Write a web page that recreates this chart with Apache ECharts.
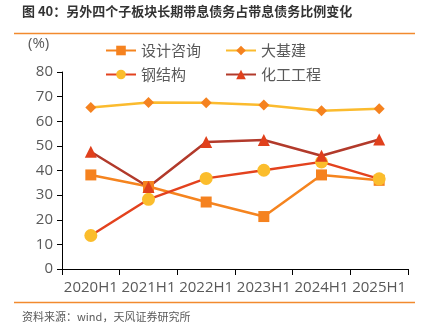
<!DOCTYPE html>
<html>
<head>
<meta charset="utf-8">
<script src="https://cdn.jsdelivr.net/npm/echarts@6/dist/echarts.min.js"></script>
<style>
  html, body { margin: 0; padding: 0; background: #fff; }
  #chart { width: 423px; height: 332px; }
</style>
</head>
<body>
<div id="chart"></div>
<script>
// Half-year periods on the x axis
const categories = ['2020H1', '2021H1', '2022H1', '2023H1', '2024H1', '2025H1'];

// Share of long-term interest-bearing debt in total interest-bearing debt (%)
const designConsulting = [38.2, 33.5, 27.2, 21.3, 38.2, 36.0];
const infrastructure   = [65.6, 67.6, 67.5, 66.6, 64.3, 65.1];
const steelStructure   = [13.6, 28.3, 36.8, 40.1, 43.5, 36.6];
const chemicalEng      = [47.6, 33.3, 51.6, 52.4, 46.0, 52.6];

const yTicks = { min: 0, max: 80, interval: 10 };

const FONT = '"Noto Sans CJK SC", "Noto Sans", sans-serif';
const NUM_FONT = '"Open Sans", sans-serif';
const TEXT = '#595959';

const chart = echarts.init(document.getElementById('chart'), null, { renderer: 'canvas' });

function lineSeries(name, data, lineColor, symbol, symbolColor, symbolSize) {
  return {
    name: name,
    type: 'line',
    data: data,
    symbol: symbol,
    symbolSize: symbolSize,
    showAllSymbol: true,
    lineStyle: { color: lineColor, width: 2.5 },
    itemStyle: { color: symbolColor, borderWidth: 0 },
    emphasis: { disabled: true },
    z: 3
  };
}

const legendCommon = {
  orient: 'vertical',
  top: 38,
  itemWidth: 30,
  itemHeight: 12,
  itemGap: 9,
  textStyle: { color: TEXT, fontSize: 15, fontFamily: FONT, padding: [0, 0, 0, 0] },
  selectedMode: false
};

chart.setOption({
  animation: false,
  backgroundColor: '#fff',
  grid: { left: 62, right: 15, top: 72, bottom: 63, containLabel: false },
  legend: [
    Object.assign({ left: 100, data: ['设计咨询', '钢结构'] }, legendCommon),
    Object.assign({ left: 220, data: ['大基建', '化工工程'] }, legendCommon)
  ],
  xAxis: {
    type: 'category',
    data: categories,
    boundaryGap: true,
    axisLine: { lineStyle: { color: '#000', width: 1 } },
    axisTick: { show: true, length: 6, lineStyle: { color: '#000' } },
    axisLabel: { color: TEXT, fontSize: 15, fontFamily: NUM_FONT, margin: 11, interval: 0 },
    splitLine: { show: false }
  },
  yAxis: {
    type: 'value',
    min: yTicks.min,
    max: yTicks.max,
    interval: yTicks.interval,
    axisLine: { show: true, lineStyle: { color: '#000', width: 1 } },
    axisTick: { show: true, length: 5, lineStyle: { color: '#000' } },
    axisLabel: { color: TEXT, fontSize: 15, fontFamily: NUM_FONT, margin: 9 },
    splitLine: { show: false }
  },
  series: [
    lineSeries('设计咨询', designConsulting, '#F5841F', 'rect', '#F5821F', 11),
    lineSeries('大基建', infrastructure, '#FBBB2E', 'diamond', '#F5821F', 11),
    lineSeries('钢结构', steelStructure, '#E3421E', 'circle', '#FBBD2C', 13),
    lineSeries('化工工程', chemicalEng, '#B23A2B', 'triangle', '#E0401C', 12)
  ],
  graphic: [
    {
      type: 'text', left: 22, top: 5,
      style: {
        text: '图 40：另外四个子板块长期带息债务占带息债务比例变化',
        fill: '#333', font: 'bold 13px ' + FONT
      }
    },
    {
      type: 'line',
      shape: { x1: 14, y1: 33.5, x2: 415, y2: 33.5 },
      style: { stroke: '#F28A2E', lineWidth: 1.5 }
    },
    {
      type: 'text', left: 28, top: 36,
      style: { text: '(%)', fill: TEXT, font: '15px ' + NUM_FONT }
    },
    {
      type: 'line',
      shape: { x1: 14, y1: 302.5, x2: 415, y2: 302.5 },
      style: { stroke: '#F28A2E', lineWidth: 1.5 }
    },
    {
      type: 'text', left: 22, top: 311,
      style: { text: '资料来源：wind，天风证券研究所', fill: '#595959', font: '11px ' + FONT }
    }
  ]
});
</script>
</body>
</html>
